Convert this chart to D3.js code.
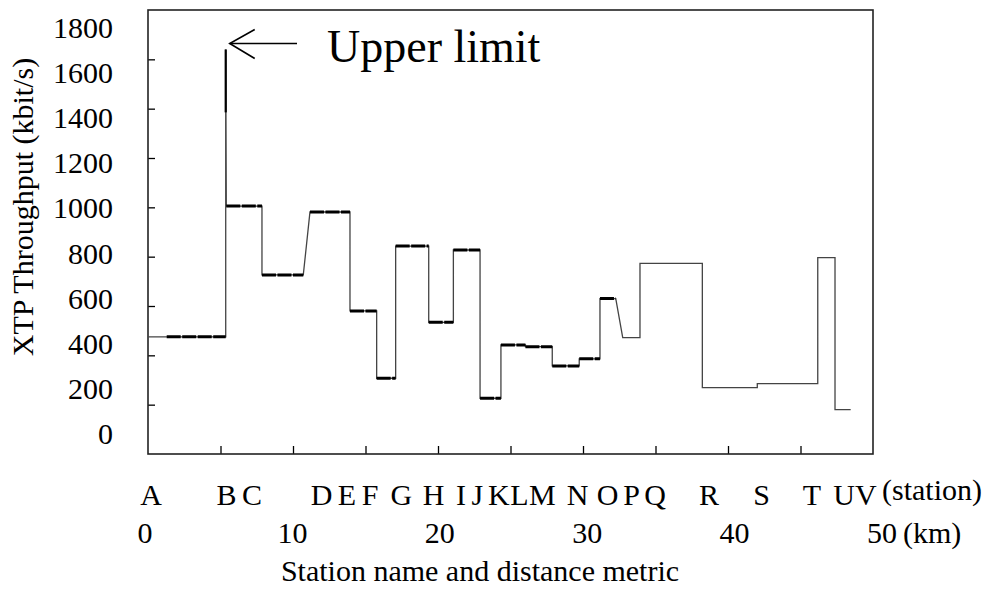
<!DOCTYPE html>
<html>
<head>
<meta charset="utf-8">
<script src="https://cdn.jsdelivr.net/npm/d3@7/dist/d3.min.js"></script>
<style>
  html, body { margin: 0; padding: 0; background: #fff; }
  svg { display: block; }
  svg text { font-family: 'Liberation Serif', 'Times New Roman', Times, serif; fill: #000; }
</style>
</head>
<body>
<svg id="chart" width="994" height="590"></svg>
<script>
// ---- data (km along line, throughput in kbit/s) ----
const segStart   = [0, 5.36, 5.40, 7.86, 11.17, 13.93, 15.77, 17.08, 19.36, 21.06, 22.90, 24.34, 26.03, 27.88, 29.74, 31.17, 32.74, 33.93, 38.23, 42.02, 46.19, 47.38];
const segEnd     = [5.36, 5.36, 7.86, 10.71, 13.93, 15.77, 17.08, 19.36, 21.06, 22.90, 24.34, 26.03, 27.88, 29.74, 31.17, 32.26, 33.93, 38.23, 42.02, 46.19, 47.38, 48.46];
const throughput = [475, 1640, 1005, 726, 981, 580, 307, 843, 534, 827, 226, 442, 435, 357, 386, 630, 472, 773, 269, 285, 796, 180];
const measured   = [true, false, true, true, true, true, true, true, true, true, true, true, true, true, true, true, false, false, false, false, false, false];
const firstMeasuredKm = 1.29;

const stationNames = ["A","B","C","D","E","F","G","H","I","J","K","L","M","N","O","P","Q","R","S","T","U","V"];
const stationKm    = [0.21, 5.41, 7.17, 11.97, 13.72, 15.31, 17.48, 19.69, 21.59, 22.72, 24.2, 25.62, 27.2, 29.62, 31.69, 33.35, 34.97, 38.69, 42.31, 45.79, 48.0, 49.5];

const kmLabels = [0, 10, 20, 30, 40, 50];
const kmTicks  = [5, 10, 15, 20, 25, 30, 35, 40, 45];
const yLabels  = [0, 200, 400, 600, 800, 1000, 1200, 1400, 1600, 1800];
const yTicks   = [200, 400, 600, 800, 1000, 1200, 1400, 1600];

// ---- layout ----
const svg = d3.select("#chart");
const FONT = "'Liberation Serif', 'Times New Roman', serif";
const L = 148, R = 873, T = 10, B = 454;
const x = d3.scaleLinear().domain([0, 50]).range([L, R]);
const y = d3.scaleLinear().domain([0, 1800]).range([B, T]);
const xLab = d3.scaleLinear().domain([0, 50]).range([145, 882]);   // printed km labels
const yLab = d3.scaleLinear().domain([0, 1800]).range([444, 38]);  // printed value labels (baselines)

// ticks (inside)
const yAxis = d3.axisLeft(y).tickValues(yTicks).tickSizeInner(-7).tickSizeOuter(0).tickFormat("");
const gy = svg.append("g").attr("transform", `translate(${L},0)`).call(yAxis);
gy.select(".domain").remove();
gy.selectAll("line").attr("stroke", "#000").attr("stroke-width", 1.3);

const xAxis = d3.axisBottom(x).tickValues(kmTicks).tickSizeInner(-8).tickSizeOuter(0).tickFormat("");
const gx = svg.append("g").attr("transform", `translate(0,${B})`).call(xAxis);
gx.select(".domain").remove();
gx.selectAll("line").attr("stroke", "#000").attr("stroke-width", 1.3);

// frame
svg.append("rect").attr("x", L).attr("y", T).attr("width", R - L).attr("height", B - T)
  .attr("fill", "none").attr("stroke", "#222").attr("stroke-width", 1.6);

// ---- step line ----
const pts = [];
segStart.forEach((s, i) => { pts.push([segStart[i], throughput[i]]); pts.push([segEnd[i], throughput[i]]); });
const line = d3.line().x(d => x(d[0])).y(d => y(d[1]));
svg.append("path").attr("d", line(pts)).attr("fill", "none")
  .attr("stroke", "#444").attr("stroke-width", 1.3).attr("stroke-linejoin", "miter");

// thick measured runs
segStart.forEach((s, i) => {
  if (!measured[i]) return;
  const a = i === 0 ? firstMeasuredKm : segStart[i];
  svg.append("line")
    .attr("x1", x(a)).attr("x2", x(segEnd[i]))
    .attr("y1", y(throughput[i])).attr("y2", y(throughput[i]))
    .attr("stroke", "#000").attr("stroke-width", 3)
    .attr("stroke-dasharray", "14,1.5");
});
// spike emphasis
svg.append("line").attr("x1", x(segStart[1])).attr("x2", x(segStart[1]))
  .attr("y1", y(throughput[1])).attr("y2", y(1385))
  .attr("stroke", "#000").attr("stroke-width", 2.2);

// ---- annotation ----
const tipX = x(segStart[1]) + 4, tipY = 43.5;
svg.append("line").attr("x1", tipX).attr("y1", tipY).attr("x2", 297).attr("y2", tipY)
  .attr("stroke", "#000").attr("stroke-width", 1.6);
svg.append("path").attr("d", `M${tipX + 25},${tipY - 14} L${tipX},${tipY} L${tipX + 25},${tipY + 15}`)
  .attr("fill", "none").attr("stroke", "#000").attr("stroke-width", 1.6);
svg.append("text").attr("x", 327).attr("y", 62).attr("font-size", 46).attr("font-family", FONT).text("Upper limit");

// ---- labels ----
svg.append("g").selectAll("text").data(yLabels).join("text")
  .attr("x", 113).attr("y", d => yLab(d)).attr("text-anchor", "end").attr("font-size", 30)
  .attr("font-family", FONT)
  .text(d => d);

svg.append("text")
  .attr("transform", "translate(33,207) rotate(-90)")
  .attr("text-anchor", "middle").attr("font-size", 30).attr("font-family", FONT)
  .text("XTP Throughput (kbit/s)");

svg.append("g").selectAll("text").data(stationNames).join("text")
  .attr("x", (d, i) => x(stationKm[i])).attr("y", 505)
  .attr("text-anchor", "middle").attr("font-size", 30).attr("font-family", FONT)
  .text(d => d);
svg.append("text").attr("x", 882).attr("y", 500).attr("font-size", 30).attr("font-family", FONT).text("(station)");

svg.append("g").selectAll("text").data(kmLabels).join("text")
  .attr("x", d => xLab(d)).attr("y", 543)
  .attr("text-anchor", "middle").attr("font-size", 30).attr("font-family", FONT)
  .text(d => d);
svg.append("text").attr("x", 903).attr("y", 543).attr("font-size", 30).attr("font-family", FONT).text("(km)");

svg.append("text").attr("x", 480).attr("y", 581).attr("text-anchor", "middle").attr("font-size", 30)
  .attr("font-family", FONT)
  .text("Station name and distance metric");
</script>
</body>
</html>
